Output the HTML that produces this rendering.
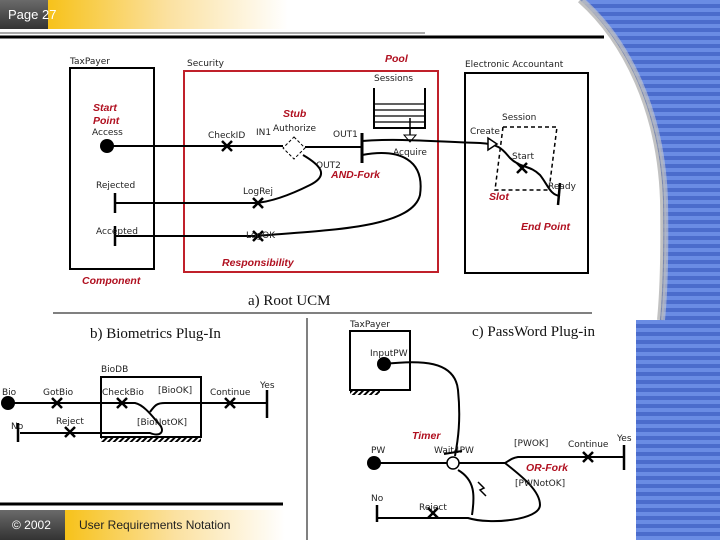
<!DOCTYPE html>
<html><head><style>
html,body{margin:0;padding:0;background:#fff;}
svg{display:block;font-family:"DejaVu Sans","Liberation Sans",sans-serif;}
.s{font-size:9px;fill:#222;}
.r{font-family:"Liberation Sans",sans-serif;font-size:10.5px;font-weight:bold;font-style:italic;fill:#b01020;}
.t{font-family:"Liberation Serif",serif;font-size:15px;fill:#111;}
.l{fill:none;stroke:#000;stroke-width:2;}
.x{stroke:#000;stroke-width:2.5;}
</style></head><body>
<svg width="720" height="540" viewBox="0 0 720 540" xmlns="http://www.w3.org/2000/svg">
<defs>
<pattern id="st" width="8" height="8" patternUnits="userSpaceOnUse">
<rect width="8" height="8" fill="#6a8ce4"/><rect y="4" width="8" height="4" fill="#4b6ccc"/>
</pattern>
<linearGradient id="yg" x1="0" x2="1"><stop offset="0" stop-color="#f7c21a"/><stop offset="0.5" stop-color="#fbe1a0"/><stop offset="1" stop-color="#fff"/></linearGradient>
<linearGradient id="dg" x1="0" x2="0" y1="0" y2="1"><stop offset="0" stop-color="#6a6a6a"/><stop offset="1" stop-color="#333"/></linearGradient>
<pattern id="h" width="4" height="4" patternUnits="userSpaceOnUse" patternTransform="rotate(45)"><rect width="2" height="4" fill="#000"/></pattern>
</defs>
<rect width="720" height="540" fill="url(#st)"/>
<path d="M0,0 L580,0 C625,40 660,110 663,200 C664,260 662,300 660,320 L636,320 L636,540 L0,540 Z" fill="#fff"/>
<path d="M580,0 C625,40 660,110 663,200 C664,260 662,300 660,320" fill="none" stroke="#999" stroke-width="6" opacity="0.6"/>
<path d="M583,0 C628,40 663,110 666,200 C667,260 665,300 663,320" fill="none" stroke="#ccc" stroke-width="4" opacity="0.6"/>
<!-- header -->
<rect x="48" y="0" width="240" height="29" fill="url(#yg)"/>
<rect x="0" y="0" width="48" height="29" fill="url(#dg)"/>
<text x="8" y="19" font-family="Liberation Sans,sans-serif" font-size="13" fill="#fff">Page 27</text>
<line x1="0" y1="33" x2="425" y2="33" stroke="#aaa" stroke-width="2"/>
<line x1="0" y1="37" x2="604" y2="37" stroke="#000" stroke-width="3"/>
<!-- footer -->
<rect x="65" y="510" width="220" height="30" fill="url(#yg)"/>
<rect x="0" y="510" width="65" height="30" fill="url(#dg)"/>
<text x="12" y="529" font-family="Liberation Sans,sans-serif" font-size="12" fill="#fff">© 2002</text>
<text x="79" y="529" font-family="Liberation Sans,sans-serif" font-size="12" fill="#222">User Requirements Notation</text>
<line x1="0" y1="504" x2="283" y2="504" stroke="#000" stroke-width="3"/>
<!-- top diagram -->
<text class="s" x="70" y="64">TaxPayer</text>
<rect x="70" y="68" width="84" height="201" class="l"/>
<text class="s" x="187" y="66">Security</text>
<rect x="184" y="71" width="254" height="201" fill="none" stroke="#c0202a" stroke-width="2"/>
<text class="s" x="465" y="67">Electronic  Accountant</text>
<rect x="465" y="73" width="123" height="200" class="l"/>
<text class="r" x="385" y="62">Pool</text>
<text class="s" x="374" y="81">Sessions</text>
<path d="M374,88 V128 H425 V88" class="l" stroke-width="1.5"/>
<g stroke="#000" stroke-width="1.2"><line x1="374" y1="104" x2="425" y2="104"/><line x1="374" y1="110" x2="425" y2="110"/><line x1="374" y1="116" x2="425" y2="116"/><line x1="374" y1="122" x2="425" y2="122"/></g>
<line x1="410" y1="118" x2="410" y2="136" stroke="#000" stroke-width="1.5"/>
<path d="M404,135 L416,135 L410,142 Z" fill="#fff" stroke="#000"/>
<text class="r" x="93" y="111">Start</text><text class="r" x="93" y="124">Point</text>
<text class="s" x="92" y="135">Access</text>
<circle cx="107" cy="146" r="7" fill="#000"/>
<path d="M107,146 H283 M305,147 H362" class="l"/>
<path d="M222,141 L232,151 M232,141 L222,151" class="x"/>
<text class="s" x="208" y="138">CheckID</text>
<text class="s" x="256" y="135" font-size="7">IN1</text>
<text class="r" x="283" y="117">Stub</text>
<text class="s" x="273" y="131">Authorize</text>
<path d="M294,137 L305,148 L294,159 L283,148 Z" fill="#fff" stroke="#000" stroke-dasharray="3,2"/>
<text class="s" x="333" y="137" font-size="7">OUT1</text>
<text class="s" x="316" y="168" font-size="7">OUT2</text>
<line x1="362" y1="133" x2="362" y2="163" stroke="#000" stroke-width="3"/>
<text class="r" x="331" y="178">AND-Fork</text>
<text class="s" x="393" y="155">Acquire</text>
<path d="M362,141 C400,138 440,142 480,143 C500,144 503,150 510,158 C520,168 530,165 540,175 C548,185 550,195 560,196" class="l"/>
<path d="M488,138 L497,144 L488,150 Z" fill="#fff" stroke="#000" stroke-width="1.5"/>
<path d="M517,163 L527,173 M527,163 L517,173" class="x"/>
<line x1="560" y1="183" x2="558" y2="205" stroke="#000" stroke-width="2.5"/>
<path d="M503,127 H557 L549,190 H495 Z" fill="none" stroke="#000" stroke-width="1.5" stroke-dasharray="4,3"/>
<text class="s" x="470" y="134">Create</text>
<text class="s" x="502" y="120">Session</text>
<text class="s" x="512" y="159">Start</text>
<text class="s" x="548" y="189">Ready</text>
<text class="r" x="489" y="200">Slot</text>
<text class="r" x="521" y="230">End Point</text>
<path d="M362,155 C400,148 425,160 420,195 C412,228 330,230 255,236 L115,236" class="l"/>
<path d="M303,155 C320,165 330,175 310,185 C290,195 270,202 255,203 L115,203" class="l"/>
<path d="M253,198 L263,208 M263,198 L253,208" class="x"/>
<path d="M253,231 L263,241 M263,231 L253,241" class="x"/>
<line x1="115" y1="193" x2="115" y2="213" stroke="#000" stroke-width="2.5"/>
<line x1="115" y1="226" x2="115" y2="246" stroke="#000" stroke-width="2.5"/>
<text class="s" x="96" y="188">Rejected</text>
<text class="s" x="96" y="234">Accepted</text>
<text class="s" x="243" y="194">LogRej</text>
<text class="s" x="246" y="238">LogOK</text>
<text class="r" x="222" y="266">Responsibility</text>
<text class="r" x="82" y="284">Component</text>
<text class="t" x="248" y="305">a) Root UCM</text>
<line x1="53" y1="313" x2="592" y2="313" stroke="#000" stroke-width="1"/>
<line x1="307" y1="318" x2="307" y2="540" stroke="#000" stroke-width="1"/>
<!-- biometrics -->
<text class="t" x="90" y="338">b) Biometrics Plug-In</text>
<text class="s" x="101" y="372">BioDB</text>
<rect x="101" y="377" width="100" height="60" class="l" stroke-width="1.5"/>
<rect x="101" y="438" width="100" height="4" fill="url(#h)"/>
<circle cx="8" cy="403" r="7" fill="#000"/>
<path d="M8,403 H135 C145,405 155,420 160,425 C165,432 160,437 150,433 L20,433" class="l"/>
<path d="M150,412 C155,405 157,403 165,403 H268" class="l" stroke-width="1.6"/>
<line x1="267" y1="390" x2="267" y2="418" stroke="#000" stroke-width="2.5"/>
<line x1="18" y1="423" x2="18" y2="442" stroke="#000" stroke-width="2.5"/>
<path d="M52,398 L62,408 M62,398 L52,408 M117,398 L127,408 M127,398 L117,408 M225,398 L235,408 M235,398 L225,408 M65,427 L75,437 M75,427 L65,437" class="x"/>
<text class="s" x="2" y="395">Bio</text><text class="s" x="43" y="395">GotBio</text>
<text class="s" x="102" y="395">CheckBio</text><text class="s" x="158" y="393">[BioOK]</text>
<text class="s" x="210" y="395">Continue</text><text class="s" x="260" y="388">Yes</text>
<text class="s" x="137" y="425">[BioNotOK]</text>
<text class="s" x="11" y="429">No</text><text class="s" x="56" y="424">Reject</text>
<!-- password -->
<text class="t" x="472" y="336">c) PassWord Plug-in</text>
<text class="s" x="350" y="327">TaxPayer</text>
<rect x="350" y="331" width="60" height="59" class="l" stroke-width="1.5"/>
<rect x="350" y="391" width="30" height="4" fill="url(#h)"/>
<text class="s" x="370" y="356">InputPW</text>
<circle cx="384" cy="364" r="7" fill="#000"/>
<path d="M384,364 C420,360 455,360 458,390 C461,420 458,440 455,456" class="l"/>
<text class="r" x="412" y="439">Timer</text>
<text class="s" x="434" y="453">Wait4PW</text>
<text class="s" x="371" y="453">PW</text>
<circle cx="374" cy="463" r="7" fill="#000"/>
<path d="M374,463 H447 M459,463 H505 C510,460 512,458 518,457 H624" class="l"/>
<path d="M505,463 C520,475 540,490 540,505 C540,520 490,525 468,518 L377,518" class="l"/>
<path d="M458,470 C475,480 475,495 472,515" class="l"/>
<path d="M478,482 L484,488 L480,490 L486,496" fill="none" stroke="#000" stroke-width="1.5"/>
<circle cx="453" cy="463" r="6" fill="#fff" stroke="#000" stroke-width="1.5"/>
<line x1="444" y1="454" x2="462" y2="451" stroke="#000" stroke-width="2"/>
<line x1="624" y1="445" x2="624" y2="470" stroke="#000" stroke-width="2.5"/>
<line x1="377" y1="505" x2="377" y2="522" stroke="#000" stroke-width="2.5"/>
<path d="M583,452 L593,462 M593,452 L583,462 M428,508 L438,518 M438,508 L428,518" class="x"/>
<text class="s" x="514" y="446">[PWOK]</text><text class="s" x="568" y="447">Continue</text>
<text class="s" x="617" y="441">Yes</text>
<text class="r" x="526" y="471">OR-Fork</text>
<text class="s" x="515" y="486">[PWNotOK]</text>
<text class="s" x="371" y="501">No</text><text class="s" x="419" y="510">Reject</text>
</svg>
</body></html>
